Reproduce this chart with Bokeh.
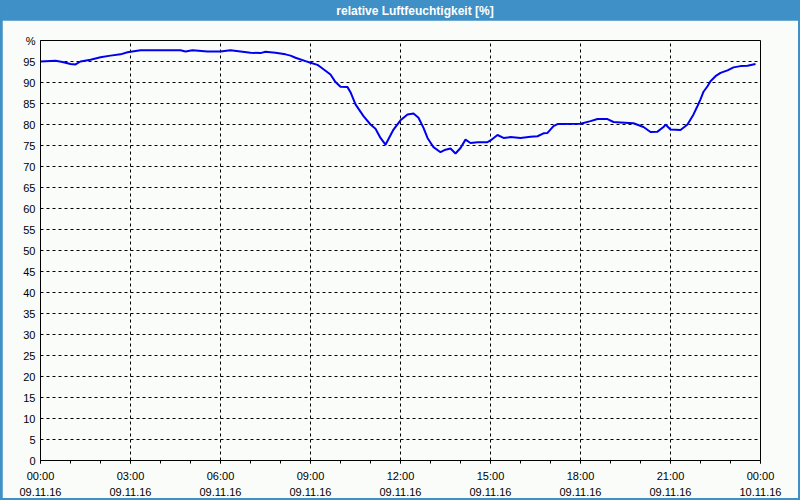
import pandas as pd
from bokeh.plotting import figure
from bokeh.layouts import column
from bokeh.models import (Range1d, FixedTicker, DatetimeAxis, DatetimeTickFormatter, Label)
from bokeh.embed import file_html
from bokeh.resources import INLINE

# ---- data (09.11.16, relative humidity in %) ----
times = ["00:00", "00:30", "00:44", "01:00", "01:10", "01:20", "01:40", "02:00", "02:20", "02:40",
         "02:54", "03:20", "04:40", "04:50", "05:04", "05:34", "06:00", "06:20", "06:40", "07:00",
         "07:20", "07:30", "07:50", "08:10", "08:20", "08:30", "08:50", "09:00", "09:14", "09:20",
         "09:40", "09:50", "10:00", "10:14", "10:20", "10:30", "10:46", "11:00", "11:10", "11:20",
         "11:30", "11:46", "12:00", "12:14", "12:26", "12:36", "12:46", "12:54", "13:06", "13:20",
         "13:30", "13:40", "13:50", "14:00", "14:10", "14:20", "14:34", "14:54", "15:00", "15:14",
         "15:26", "15:40", "16:00", "16:20", "16:34", "16:46", "16:54", "17:06", "17:14", "18:00",
         "18:20", "18:34", "18:54", "19:06", "19:20", "19:46", "20:06", "20:20", "20:34", "20:46",
         "20:50", "21:00", "21:20", "21:34", "21:46", "21:54", "22:00", "22:06", "22:14", "22:20",
         "22:30", "22:40", "22:54", "23:06", "23:20", "23:34", "23:50"]
humidity = [95.0, 95.2, 94.9, 94.4, 94.3, 95.0, 95.4, 96.0, 96.4, 96.7,
            97.2, 97.7, 97.7, 97.4, 97.7, 97.4, 97.4, 97.7, 97.4, 97.1,
            97.0, 97.3, 97.1, 96.7, 96.4, 95.9, 95.1, 94.7, 94.2, 93.7,
            91.9, 90.1, 89.0, 88.9, 87.7, 84.8, 82.0, 80.0, 79.0, 76.8,
            75.2, 78.8, 81.0, 82.4, 82.6, 81.6, 79.2, 76.8, 74.6, 73.4,
            74.0, 74.3, 73.1, 74.4, 76.4, 75.6, 75.8, 75.8, 76.2, 77.5,
            76.8, 77.0, 76.8, 77.1, 77.2, 77.9, 78.0, 79.6, 80.1, 80.2,
            80.8, 81.3, 81.3, 80.6, 80.5, 80.3, 79.4, 78.2, 78.3, 79.4,
            80.0, 78.8, 78.7, 80.0, 82.4, 84.4, 86.0, 87.8, 89.1, 90.3,
            91.5, 92.3, 92.9, 93.6, 93.9, 94.0, 94.4]
day = "2016-11-09"
y_ticks = list(range(0, 101, 5))
title_text = "relative Luftfeuchtigkeit [%]"

x = pd.to_datetime([f"{day} {t}" for t in times])
start = pd.Timestamp(day)
end = start + pd.Timedelta(hours=24)

def ms(ts):
    return ts.value / 1e6

major = [ms(start + pd.Timedelta(hours=h)) for h in range(0, 25, 3)]
minor = [ms(start + pd.Timedelta(hours=h)) for h in range(0, 25)]

BG = "#fafcfa"
BLUE = "#3e90c6"
FONT = "Liberation Sans"

# ---- title bar ----
pt = figure(width=800, height=20, output_backend="svg", toolbar_location=None,
            x_range=Range1d(0, 800), y_range=Range1d(0, 20),
            min_border=0, margin=0)
pt.axis.visible = False
pt.grid.visible = False
pt.outline_line_color = None
pt.background_fill_color = BLUE
pt.border_fill_color = BLUE
pt.add_layout(Label(x=416, y=10, text=title_text,
                    text_align="center", text_baseline="middle", text_color="white",
                    text_font=FONT, text_font_style="bold", text_font_size="12px"))

# ---- main chart ----
p = figure(width=796, height=478, output_backend="svg", toolbar_location=None,
           x_axis_type="datetime",
           x_range=Range1d(start, end), y_range=Range1d(0, 100),
           min_border_left=38, min_border_right=38, min_border_top=20, min_border_bottom=37,
           margin=(0, 2, 2, 2))
p.background_fill_color = BG
p.border_fill_color = BG
p.outline_line_color = "black"
p.outline_line_width = 1

xt = FixedTicker(ticks=major, minor_ticks=minor)
fmt_fields = ["microseconds", "milliseconds", "seconds", "minsec", "minutes",
              "hourmin", "hours", "days", "months", "years"]

ax = p.xaxis[0]
ax.ticker = xt
ax.formatter = DatetimeTickFormatter(**{f: "%H:%M" for f in fmt_fields})
ax.major_tick_out = 3
ax.major_tick_in = 0
ax.minor_tick_out = 3
ax.minor_tick_in = 0
ax.major_label_standoff = 6
ax.axis_line_color = "black"
ax.major_label_text_font = FONT
ax.major_label_text_font_size = "11px"
ax.major_label_text_color = "black"

ax2 = DatetimeAxis(ticker=xt,
                   formatter=DatetimeTickFormatter(**{f: "%d.%m.%y" for f in fmt_fields}))
ax2.axis_line_color = None
ax2.major_tick_line_color = None
ax2.minor_tick_line_color = None
ax2.major_label_standoff = -3
ax2.major_label_text_font = FONT
ax2.major_label_text_font_size = "11px"
ax2.major_label_text_color = "black"
# the last tick belongs to the next day
ax2.major_label_overrides = {major[-1]: "10.11.16"}
p.add_layout(ax2, "below")

ay = p.yaxis[0]
ay.ticker = FixedTicker(ticks=y_ticks)
ay.major_label_overrides = {100: "%"}
ay.major_tick_out = 0
ay.major_tick_in = 0
ay.minor_tick_line_color = None
ay.major_label_standoff = 5
ay.axis_line_color = "black"
ay.major_label_text_font = FONT
ay.major_label_text_font_size = "11px"
ay.major_label_text_color = "black"

p.xgrid.ticker = xt
p.ygrid.ticker = FixedTicker(ticks=y_ticks)
for g in (p.xgrid[0], p.ygrid[0]):
    g.grid_line_color = "black"
    g.grid_line_dash = "3 3"
    g.grid_line_width = 1

p.line(x, humidity, line_color="#0000ee", line_width=2)

layout = column(pt, p, spacing=0, margin=0, styles={"background-color": BLUE})

open("out.html", "w").write(file_html(layout, INLINE))
